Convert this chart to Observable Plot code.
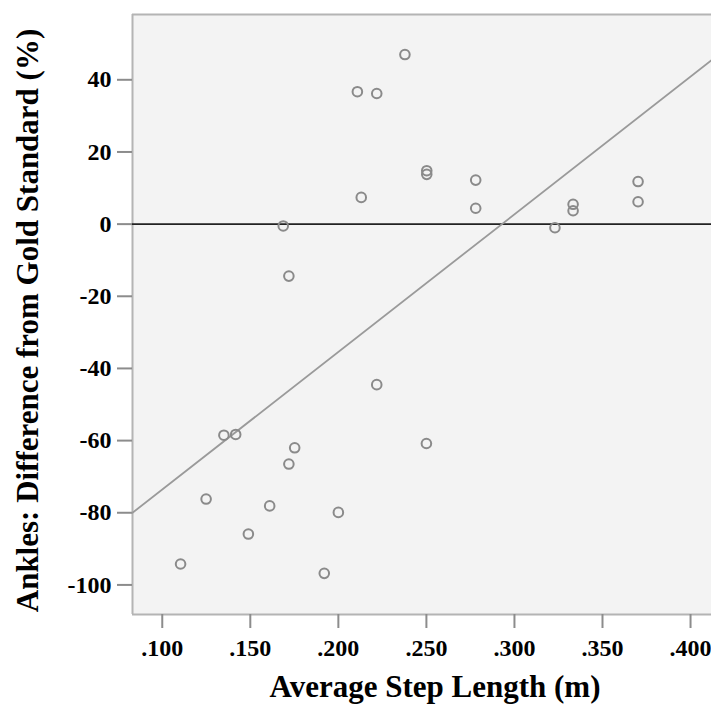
<!DOCTYPE html>
<html><head><meta charset="utf-8">
<script src="https://cdn.jsdelivr.net/npm/d3@7"></script>
<script src="https://cdn.jsdelivr.net/npm/@observablehq/plot@0.6"></script>
<style>
body{margin:0;background:#fff;}
#chart svg{display:block;}
</style>
</head><body><div id="chart"></div>
<script>
// Average step length (m)
const stepLength = [0.1104, 0.1249, 0.1350, 0.1417, 0.1752, 0.1719, 0.1610, 0.1489, 0.2000, 0.1920,
  0.2500, 0.2218, 0.1719, 0.1687, 0.2130, 0.2108, 0.2218, 0.2378, 0.2502, 0.2502,
  0.2780, 0.2780, 0.3230, 0.3333, 0.3333, 0.3702, 0.3702];
// Ankles: difference from gold standard (%)
const ankleDiff = [-94.2, -76.2, -58.5, -58.3, -62.0, -66.5, -78.1, -85.9, -79.9, -96.8,
  -60.8, -44.5, -14.4, -0.5, 7.4, 36.7, 36.2, 47.0, 13.8, 14.8,
  12.2, 4.4, -1.0, 5.5, 3.7, 11.8, 6.2];
// fit line (value at the left and right plot edges)
const fitX = [0.0831, 0.4119];
const fitY = [-80.0, 45.4];
const xTicks = [0.100, 0.150, 0.200, 0.250, 0.300, 0.350, 0.400];
const yTicks = [-100, -80, -60, -40, -20, 0, 20, 40];
const xTitle = "Average Step Length (m)";
const yTitle = "Ankles: Difference from Gold Standard (%)";

const points = stepLength.map((x, i) => ({x, y: ankleDiff[i]}));
const fit = fitX.map((x, i) => ({x, y: fitY[i]}));
const xDomain = [0.0831, 0.4119];
const yDomain = [-108.2, 58.1];

const fmtX = d => d3.format(".3f")(d).replace(/^0/, "");
const fmtY = d => String(d);
const border = {stroke: "#b4b4b4", strokeWidth: 2};

const chart = Plot.plot({
  width: 711,
  height: 706,
  marginLeft: 132,
  marginRight: 0,
  marginTop: 14,
  marginBottom: 92,
  style: {fontFamily: "'Liberation Serif', 'Times New Roman', serif", fontWeight: "bold", fontSize: "24px", color: "#000", background: "#fff"},
  x: {domain: xDomain},
  y: {domain: yDomain},
  marks: [
    Plot.frame({fill: "#f3f3f3", stroke: "none"}),
    Plot.ruleX([xDomain[0]], border),
    Plot.ruleY([yDomain[0], yDomain[1]], border),
    Plot.axisY(yTicks, {tickSize: 15, tickPadding: 6, stroke: "#8c8c8c", strokeWidth: 2, fill: "#000", label: null, tickFormat: fmtY, fontSize: 24}),
    Plot.axisX(xTicks, {tickSize: 14, tickPadding: 10, stroke: "#8c8c8c", strokeWidth: 2, fill: "#000", label: null, tickFormat: fmtX, fontSize: 24}),
    Plot.ruleY([0], {stroke: "#222", strokeWidth: 1.8}),
    Plot.line(fit, {x: "x", y: "y", stroke: "#9a9a9a", strokeWidth: 1.8}),
    Plot.dot(points, {x: "x", y: "y", r: 4.8, stroke: "#8a8a8a", strokeWidth: 2, fill: "none"}),
    Plot.text([xTitle], {frameAnchor: "bottom", dy: 82, dx: 13, fontSize: 31, fontWeight: "bold", fill: "#000"}),
    Plot.text([yTitle], {frameAnchor: "left", textAnchor: "middle", dx: -104, dy: 6, rotate: -90, fontSize: 31, fontWeight: "bold", fill: "#000"})
  ]
});
document.getElementById("chart").appendChild(chart);
</script>
</body></html>
